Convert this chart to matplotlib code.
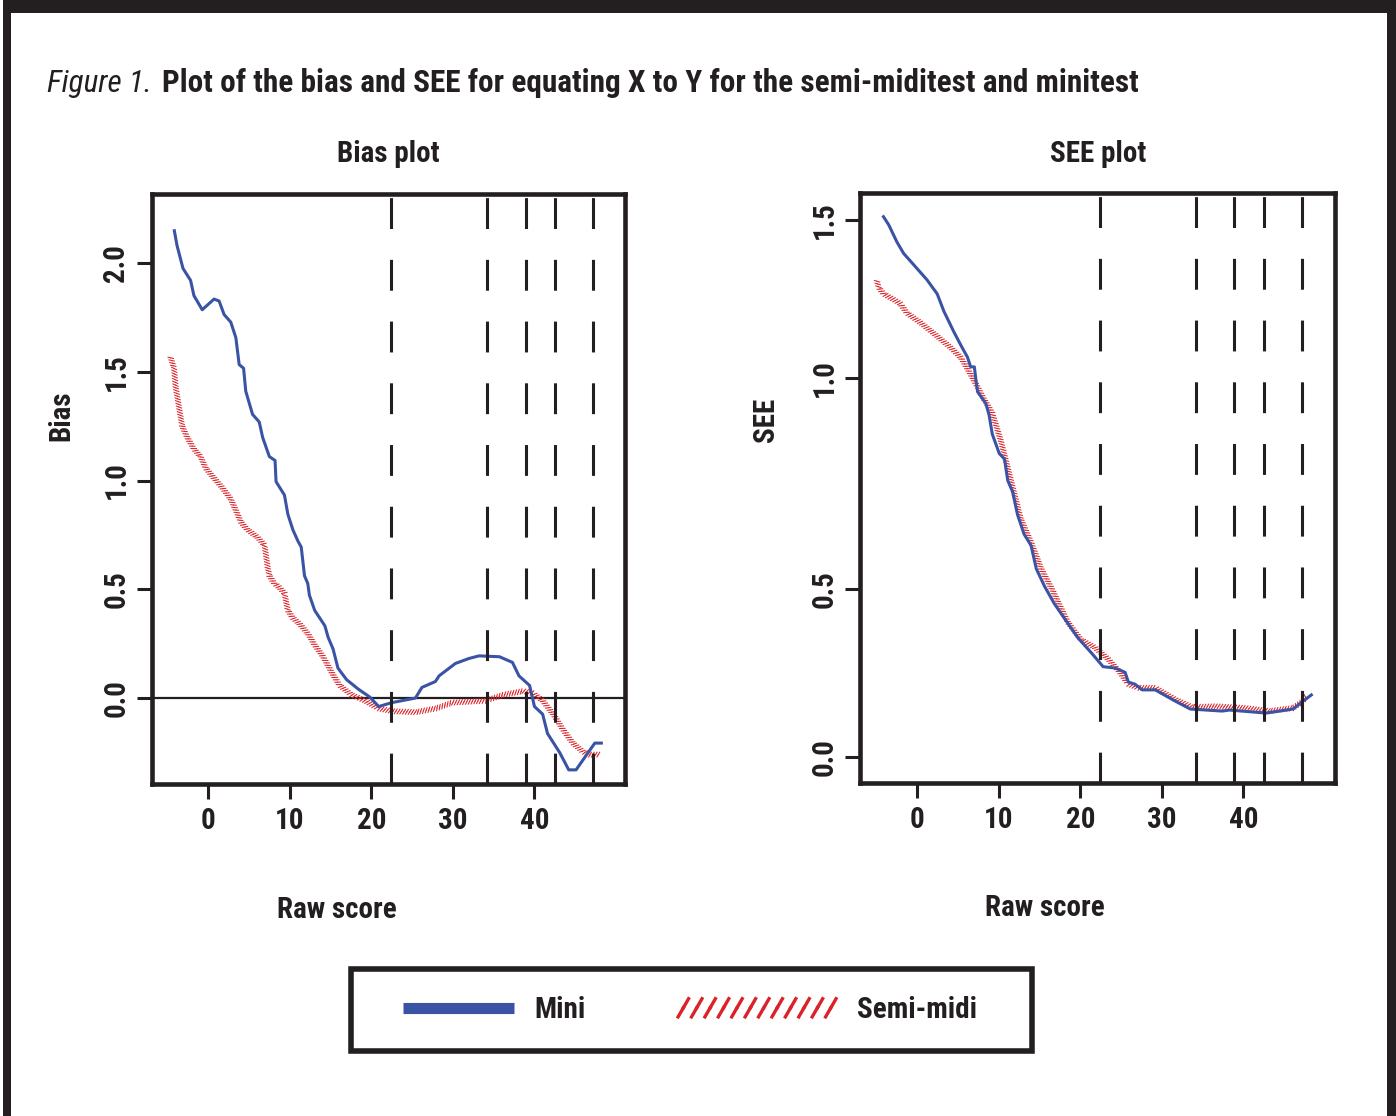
import numpy as np
import matplotlib
matplotlib.use("Agg")
import matplotlib.pyplot as plt
from matplotlib import patheffects as pe
from matplotlib import font_manager as fm
from matplotlib.legend_handler import HandlerLine2D
from matplotlib.patches import Rectangle

# ---------------- data ----------------
series_names = ["Mini", "Semi-midi"]

bias_mini_x = [-4.16, -3.83, -3.1, -2.17, -1.76, -0.74, 0.71, 1.33, 1.94, 2.76, 3.38, 3.79, 4.33, 4.6,
               5.43, 6.25, 6.67, 7.49, 8.19, 8.31, 9.34, 9.76, 10.37, 11.0, 11.4, 11.8, 12.2, 12.4,
               13.05, 14.3, 14.7, 15.3, 15.9, 16.95, 18.4, 19.8, 20.9, 22.5, 25.4, 26.2, 27.85, 28.3,
               30.3, 31.97, 33.2, 35.7, 37.3, 38.1, 39.4, 40.0, 41.0, 41.6, 43.1, 44.2, 45.1, 46.4,
               47.4, 48.2]
bias_mini_y = [2.148, 2.08, 1.975, 1.92, 1.85, 1.785, 1.834, 1.825, 1.763, 1.728, 1.657, 1.533, 1.516,
               1.41, 1.304, 1.269, 1.198, 1.11, 1.092, 0.995, 0.933, 0.845, 0.774, 0.721, 0.694, 0.562,
               0.527, 0.473, 0.403, 0.332, 0.279, 0.226, 0.138, 0.085, 0.041, 0.005, -0.039, -0.021,
               0.0, 0.049, 0.076, 0.102, 0.159, 0.182, 0.194, 0.19, 0.164, 0.102, 0.058, -0.039,
               -0.074, -0.163, -0.251, -0.33, -0.33, -0.26, -0.207, -0.207]

bias_semi_x = [-4.65, -4.2, -4.0, -3.6, -3.2, -2.6, -1.76, -0.94, -0.32, 0.5, 1.7, 2.75, 3.4, 4.0, 4.8,
               6.05, 6.9, 7.3, 7.5, 8.1, 8.7, 9.35, 9.75, 10.4, 11.2, 12.2, 13.05, 14.07, 15.1, 16.1,
               17.6, 19.2, 20.9, 22.5, 25.4, 27.9, 29.9, 34.0, 36.1, 38.6, 39.8, 41.0, 42.3, 43.5,
               44.7, 45.96, 46.8, 48.0]
bias_semi_y = [1.57, 1.516, 1.43, 1.34, 1.25, 1.20, 1.145, 1.11, 1.057, 1.02, 0.968, 0.915, 0.862,
               0.809, 0.774, 0.739, 0.703, 0.597, 0.562, 0.527, 0.509, 0.482, 0.403, 0.367, 0.341,
               0.297, 0.244, 0.191, 0.12, 0.058, 0.014, -0.012, -0.048, -0.06, -0.065, -0.048,
               -0.021, -0.012, 0.014, 0.032, 0.023, -0.012, -0.074, -0.145, -0.207, -0.247, -0.26,
               -0.26]

see_mini_x = [-4.15, -3.5, -2.5, -1.68, -0.44, 1.2, 2.44, 3.26, 4.5, 5.5, 6.15, 6.55, 7.0, 7.2, 7.4,
              8.4, 8.8, 9.2, 10.06, 10.7, 11.1, 11.7, 12.3, 13.1, 13.96, 14.6, 15.6, 16.8, 18.1,
              19.7, 21.4, 22.8, 24.3, 25.5, 25.9, 26.7, 27.6, 29.2, 31.7, 33.5, 37.4, 38.3, 42.8,
              46.1, 47.3, 48.35]
see_mini_y = [1.51, 1.484, 1.43, 1.394, 1.358, 1.31, 1.266, 1.211, 1.145, 1.096, 1.066, 1.035, 1.035,
              0.994, 0.967, 0.94, 0.913, 0.867, 0.821, 0.808, 0.757, 0.73, 0.676, 0.63, 0.603, 0.548,
              0.507, 0.457, 0.411, 0.355, 0.309, 0.269, 0.265, 0.252, 0.223, 0.217, 0.2, 0.2, 0.166,
              0.143, 0.137, 0.14, 0.131, 0.143, 0.166, 0.185]

see_semi_x = [-4.97, -4.76, -4.15, -2.9, -2.09, -1.26, 0.38, 2.44, 4.09, 5.3, 6.15, 6.97, 8.2, 9.2,
              10.3, 11.5, 12.7, 13.96, 15.2, 16.6, 18.5, 20.1, 21.8, 23.4, 24.7, 25.9, 27.1, 29.2,
              31.7, 33.7, 36.6, 40.3, 43.2, 46.1, 47.3, 47.7]
see_semi_y = [1.31, 1.287, 1.266, 1.248, 1.235, 1.205, 1.175, 1.132, 1.096, 1.066, 1.029, 0.994,
              0.949, 0.917, 0.848, 0.757, 0.666, 0.611, 0.548, 0.496, 0.40, 0.349, 0.326, 0.292,
              0.257, 0.217, 0.206, 0.206, 0.171, 0.149, 0.151, 0.146, 0.137, 0.146, 0.166, 0.183]

cut_scores = [22.4, 34.2, 38.9, 42.5, 47.2]
x_ticks = [0, 10, 20, 30, 40]
bias_yticks = [0.0, 0.5, 1.0, 1.5, 2.0]
see_yticks = [0.0, 0.5, 1.0, 1.5]

# ---------------- styling ----------------
names = {f.name for f in fm.fontManager.ttflist}
FAMILY, STRETCH = "DejaVu Sans", "normal"
for cand in ["Liberation Sans Narrow", "Roboto Condensed", "Open Sans Condensed"]:
    if cand in names:
        FAMILY = cand
        break
else:
    for f in fm.fontManager.ttflist:
        if f.stretch in ("condensed", "semi-condensed") and f.name in (
                "Roboto", "Open Sans", "Noto Sans", "DejaVu Sans", "Inter", "Lato"):
            FAMILY, STRETCH = f.name, "condensed"
            break
plt.rcParams["font.family"] = [FAMILY, "DejaVu Sans"]
plt.rcParams["font.stretch"] = STRETCH
plt.rcParams["font.weight"] = "bold"

INK = "#231f20"
BLUE = "#3a53a4"
RED = "#dc2229"

W, H = 1396, 1116
fig = plt.figure(figsize=(W / 100, H / 100), dpi=100, facecolor="white")


def box(l, t, r, b):
    return [l / W, 1 - b / H, (r - l) / W, (b - t) / H]


ax1 = fig.add_axes(box(152, 194, 625, 784))
ax2 = fig.add_axes(box(860, 193, 1335, 783))

# Right panel in the reference has unevenly spaced y ticks -> piecewise-linear scale
SV = [0.0, 0.5, 1.0, 1.5]
SP = [0.0, 168.0, 379.0, 537.0]


def fwd(v):
    v = np.asarray(v, dtype=float)
    out = np.interp(v, SV, SP)
    out = np.where(v < 0, v * 336.0, out)
    out = np.where(v > 1.5, 537.0 + (v - 1.5) * 316.0, out)
    return out


def inv(p):
    p = np.asarray(p, dtype=float)
    out = np.interp(p, SP, SV)
    out = np.where(p < 0, p / 336.0, out)
    out = np.where(p > 537.0, 1.5 + (p - 537.0) / 316.0, out)
    return out


ax2.set_yscale("function", functions=(fwd, inv))


def hatch_effects(spacing, length, lw):
    return [pe.TickedStroke(spacing=spacing, angle=60, length=length, foreground=RED, linewidth=lw),
            pe.TickedStroke(spacing=spacing, angle=-120, length=length, foreground=RED, linewidth=lw)]


lines = {}
for ax, (sx, sy), (mx, my) in [
        (ax1, (bias_semi_x, bias_semi_y), (bias_mini_x, bias_mini_y)),
        (ax2, (see_semi_x, see_semi_y), (see_mini_x, see_mini_y))]:
    ls, = ax.plot(sx, sy, color=RED, lw=0.8, path_effects=hatch_effects(2.0, 1.0, 0.75), zorder=2)
    lm, = ax.plot(mx, my, color=BLUE, lw=2.2, solid_joinstyle="round", zorder=3)
    lines["semi"], lines["mini"] = ls, lm
    for c in cut_scores:
        ax.axvline(c, color=INK, lw=2.2, linestyle=(0, (10.1, 10.1)), zorder=4)
    for s in ax.spines.values():
        s.set_linewidth(3.3)
        s.set_color(INK)
    ax.set_xticks(x_ticks, [str(t) for t in x_ticks])
    ax.tick_params(length=10.5, width=2.2, color=INK, labelsize=21, labelcolor=INK, direction="out")
    ax.tick_params(axis="x", pad=6)
    ax.tick_params(axis="y", pad=5, labelrotation=90)

ax1.axhline(0, color=INK, lw=1.6, zorder=1)
ax1.set_xlim(-6.9, 51.1)
ax1.set_ylim(-0.395, 2.317)
ax1.set_yticks(bias_yticks, [f"{v:.1f}" for v in bias_yticks])
ax2.set_xlim(-7.03, 51.25)
ax2.set_ylim(-0.077, 1.585)
ax2.set_yticks(see_yticks, [f"{v:.1f}" for v in see_yticks])
for ax in (ax1, ax2):
    plt.setp(ax.get_yticklabels(), va="center")

# ---------------- texts ----------------
fs_lab = 21
fig.text(388 / W, 1 - 162 / H, "Bias plot", ha="center", va="baseline", fontsize=fs_lab, color=INK)
fig.text(1098 / W, 1 - 162 / H, "SEE plot", ha="center", va="baseline", fontsize=fs_lab, color=INK)
fig.text(337 / W, 1 - 918 / H, "Raw score", ha="center", va="baseline", fontsize=fs_lab, color=INK)
fig.text(1045 / W, 1 - 916 / H, "Raw score", ha="center", va="baseline", fontsize=fs_lab, color=INK)
fig.text(61 / W, 1 - 416 / H, "Bias", ha="center", va="center", rotation=90, fontsize=fs_lab, color=INK)
fig.text(766 / W, 1 - 420 / H, "SEE", ha="center", va="center", rotation=90, fontsize=fs_lab, color=INK)

# title: fit to reference width (47 px -> 1140 px)
FS0 = 24
t1 = fig.text(47 / W, 1 - 92 / H, "Figure 1.", style="italic", weight="normal",
              ha="left", va="baseline", fontsize=FS0, color=INK)
t2 = fig.text(0, 1 - 92 / H, "Plot of the bias and SEE for equating X to Y for the semi-miditest and minitest",
              ha="left", va="baseline", fontsize=FS0, color=INK)
r = fig.canvas.get_renderer()
w_tot = t1.get_window_extent(r).width + t2.get_window_extent(r).width
fs = FS0 * (1140 - 47 - 10) / w_tot
t1.set_fontsize(fs)
t2.set_fontsize(fs)
r = fig.canvas.get_renderer()
x_end = t1.get_window_extent(r).x1
t2.set_x((x_end + 10) / W)

# ---------------- legend ----------------


class WideHandler(HandlerLine2D):
    def __init__(self, extra, **kw):
        super().__init__(**kw)
        self.extra = extra

    def create_artists(self, legend, orig_handle, xdescent, ydescent, width, height, fontsize, trans):
        ext = self.extra * width
        return super().create_artists(legend, orig_handle, xdescent + ext, ydescent,
                                      width + ext, height, fontsize, trans)


fs_leg = 21
fs_px = fs_leg * 100 / 72
leg = fig.legend([lines["mini"], lines["semi"]], series_names,
                 loc="center", bbox_to_anchor=(403 / W, 1 - 1052 / H, (977 - 403) / W, 84 / H),
                 mode="expand", ncol=2, frameon=False, borderpad=0, borderaxespad=0,
                 handlelength=111 / fs_px, handletextpad=20 / fs_px, fontsize=fs_leg,
                 handler_map={lines["semi"]: WideHandler(0.44)})
for t in leg.get_texts():
    t.set_color(INK)
hb, hr = leg.legend_handles
hb.set_linewidth(8)
hb.set_solid_capstyle("butt")
hr.set_path_effects(hatch_effects(8.9, 0.85, 2.4))

fig.add_artist(Rectangle((351 / W, 1 - 1051 / H), 681 / W, 82 / H, transform=fig.transFigure,
                         fill=False, edgecolor=INK, linewidth=4))

# outer frame (top, left, right)
for (x0, y0, x1, y1) in [(3, 0, 1396, 12.5), (3, 0, 11, 1116), (1387, 0, 1396, 1116)]:
    fig.add_artist(Rectangle((x0 / W, 1 - y1 / H), (x1 - x0) / W, (y1 - y0) / H,
                             transform=fig.transFigure, facecolor=INK, edgecolor="none"))

fig.savefig("out.png", dpi=100, facecolor="white")
